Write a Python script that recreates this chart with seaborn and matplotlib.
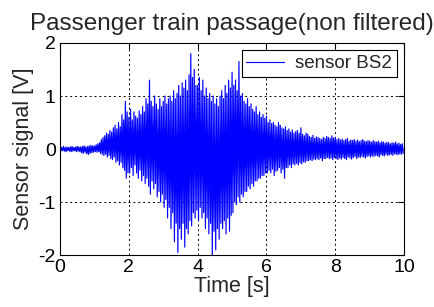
import numpy as np
import pandas as pd
import seaborn as sns
import matplotlib
matplotlib.use("Agg")
import matplotlib.pyplot as plt

# swing peaks, one pair every 0.05 s (one row = 1 s)
upper_peaks = [
    0.04, 0.03, 0.05, 0.03, 0.04, 0.03, 0.04, 0.05, 0.03, 0.04, 0.05, 0.04, 0.04, 0.05, 0.06, 0.04, 0.05, 0.06, 0.07, 0.06,
    0.06, 0.08, 0.10, 0.12, 0.18, 0.22, 0.25, 0.30, 0.28, 0.35, 0.32, 0.40, 0.45, 0.38, 0.50, 0.42, 0.65, 0.55, 0.90, 0.70,
    0.60, 0.75, 0.55, 0.70, 0.62, 0.58, 0.72, 0.65, 0.80, 0.70, 0.95, 0.85, 1.30, 0.90, 0.80, 1.00, 0.85, 0.75, 0.95, 0.80,
    0.90, 1.00, 0.85, 0.95, 1.00, 0.90, 1.10, 0.95, 1.05, 1.20, 1.00, 1.25, 1.15, 1.30, 1.10, 1.40, 1.80, 1.35, 1.50, 1.20,
    1.20, 1.35, 1.10, 1.30, 1.00, 1.15, 0.95, 1.05, 0.90, 1.00, 0.85, 0.95, 0.80, 1.00, 1.10, 0.95, 1.20, 1.05, 1.30, 1.15,
    1.45, 1.20, 1.30, 1.10, 1.65, 1.00, 1.05, 0.90, 0.85, 0.95, 0.80, 0.85, 0.75, 0.70, 0.80, 0.65, 0.70, 0.60, 0.65, 0.58,
    0.62, 0.50, 0.55, 0.48, 0.50, 0.45, 0.42, 0.50, 0.45, 0.40, 0.38, 0.42, 0.35, 0.38, 0.32, 0.36, 0.30, 0.33, 0.35, 0.30,
    0.40, 0.28, 0.25, 0.30, 0.28, 0.24, 0.22, 0.26, 0.20, 0.23, 0.22, 0.20, 0.18, 0.22, 0.20, 0.24, 0.22, 0.20, 0.25, 0.21,
    0.22, 0.18, 0.20, 0.17, 0.19, 0.16, 0.18, 0.20, 0.15, 0.17, 0.16, 0.18, 0.15, 0.17, 0.14, 0.16, 0.18, 0.15, 0.14, 0.16,
    0.15, 0.13, 0.16, 0.14, 0.13, 0.15, 0.12, 0.14, 0.13, 0.11, 0.13, 0.12, 0.10, 0.12, 0.11, 0.13, 0.10, 0.11, 0.09, 0.10,
]
lower_peaks = [
    -0.04, -0.03, -0.04, -0.05, -0.03, -0.04, -0.05, -0.04, -0.03, -0.05, -0.04, -0.05, -0.07, -0.08, -0.06, -0.09, -0.10, -0.08, -0.07, -0.06,
    -0.05, -0.06, -0.05, -0.08, -0.10, -0.12, -0.10, -0.15, -0.12, -0.18, -0.20, -0.15, -0.25, -0.22, -0.30, -0.25, -0.35, -0.40, -0.55, -0.45,
    -0.45, -0.35, -0.50, -0.30, -0.45, -0.55, -0.40, -0.60, -0.50, -0.65, -0.55, -0.70, -0.85, -0.60, -0.75, -0.65, -0.90, -0.80, -1.00, -0.85,
    -1.10, -0.95, -1.30, -1.10, -1.50, -1.20, -1.75, -1.40, -1.95, -1.50, -1.70, -1.40, -1.85, -1.50, -1.60, -1.35, -1.45, -1.20, -1.30, -1.15,
    -1.35, -1.10, -1.30, -1.20, -1.50, -1.30, -1.60, -1.40, -2.00, -1.55, -1.90, -1.50, -1.70, -1.40, -1.50, -1.35, -1.60, -1.30, -1.55, -1.25,
    -1.20, -1.00, -1.05, -0.90, -1.00, -0.85, -0.90, -0.80, -0.80, -0.70, -0.75, -0.65, -0.70, -0.60, -0.60, -0.55, -0.55, -0.50, -0.50, -0.45,
    -0.45, -0.40, -0.45, -0.38, -0.50, -0.42, -0.40, -0.35, -0.45, -0.38, -0.55, -0.35, -0.35, -0.30, -0.35, -0.28, -0.30, -0.27, -0.30, -0.26,
    -0.28, -0.24, -0.25, -0.22, -0.22, -0.20, -0.22, -0.19, -0.20, -0.18, -0.20, -0.17, -0.22, -0.18, -0.18, -0.16, -0.18, -0.17, -0.20, -0.16,
    -0.18, -0.20, -0.17, -0.19, -0.16, -0.18, -0.20, -0.15, -0.17, -0.19, -0.16, -0.14, -0.18, -0.15, -0.16, -0.14, -0.15, -0.17, -0.14, -0.13,
    -0.15, -0.13, -0.14, -0.12, -0.13, -0.15, -0.11, -0.12, -0.13, -0.10, -0.12, -0.11, -0.10, -0.12, -0.09, -0.10, -0.11, -0.09, -0.10, -0.08,
]
sample_step = 0.025  # s between an upper and a lower swing

xticks = [0, 2, 4, 6, 8, 10]
yticks = [-2, -1, 0, 1, 2]

signal = np.empty(2 * len(upper_peaks))
signal[0::2] = upper_peaks
signal[1::2] = lower_peaks
df = pd.DataFrame({"time": np.arange(len(signal)) * sample_step, "signal": signal})

sns.set_style("white")
plt.rcParams["font.family"] = ["Liberation Sans", "DejaVu Sans"]
plt.rcParams["axes.unicode_minus"] = False

fig = plt.figure(figsize=(4.35, 3.07), dpi=100)
ax = fig.add_axes([0.138, 0.169, 0.791, 0.691])

sns.lineplot(data=df, x="time", y="signal", ax=ax, color="#0000ff",
             linewidth=0.85, estimator=None, sort=False, label="sensor BS2")

ax.set_xlim(0, 10)
ax.set_ylim(-2, 2)
ax.set_xticks(xticks)
ax.set_yticks(yticks)
ax.grid(True, color="black", linestyle=(0, (2, 3)), linewidth=0.7)
for s in ax.spines.values():
    s.set_color("black")
    s.set_linewidth(0.8)
ax.tick_params(direction="in", length=4, labelsize=14, colors="black",
               top=True, right=True, pad=3)
ax.set_xlabel("Time [s]", fontsize=15.5, labelpad=0)
ax.set_ylabel("Sensor signal [V]", fontsize=15.5, labelpad=3)
ax.set_title("Passenger train passage(non filtered)", fontsize=17.5, pad=9)

leg = ax.legend(loc="upper right", fontsize=13.5, frameon=True, fancybox=False,
                handlelength=2.0, handletextpad=0.6, borderpad=0.25, borderaxespad=0.4)
leg.get_frame().set_edgecolor("black")
leg.get_frame().set_linewidth(0.8)
leg.get_frame().set_alpha(1)

fig.savefig("out.png", dpi=100)
